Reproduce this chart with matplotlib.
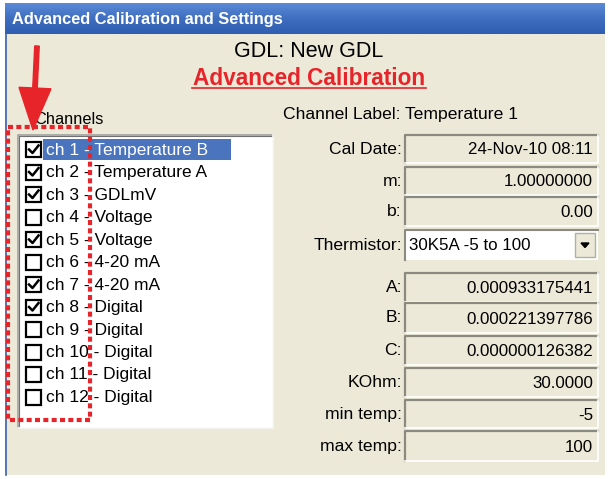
import numpy as np
import matplotlib.pyplot as plt
from matplotlib.colors import LinearSegmentedColormap
from matplotlib.patches import Rectangle, FancyArrow, Polygon

# dialog content
window_title = 'Advanced Calibration and Settings'
device_name = 'GDL: New GDL'
page_title = 'Advanced Calibration'
channel_label = 'Channel Label: Temperature 1'

channels = ['ch 1 - Temperature B', 'ch 2 - Temperature A', 'ch 3 - GDLmV',
            'ch 4 - Voltage', 'ch 5 - Voltage', 'ch 6 - 4-20 mA',
            'ch 7 - 4-20 mA', 'ch 8 - Digital', 'ch 9 - Digital',
            'ch 10 - Digital', 'ch 11 - Digital', 'ch 12 - Digital']
checked = [True, True, True, False, True, False, True, True, False, False, False, False]

field_labels = ['Cal Date:', 'm:', 'b:', 'Thermistor:', 'A:', 'B:', 'C:',
                'KOhm:', 'min temp:', 'max temp:']
field_values = ['24-Nov-10 08:11', '1.00000000', '0.00', '30K5A -5 to 100',
                '0.000933175441', '0.000221397786', '0.000000126382',
                '30.0000', '-5', '100']

BEIGE = '#ECE9D8'
RED = '#E8242B'
FONT = 'Liberation Sans'

fig = plt.figure(figsize=(6.08, 4.79), dpi=100)
ax = fig.add_axes([0, 0, 1, 1])
ax.set_xlim(0, 608)
ax.set_ylim(479, 0)
ax.axis('off')

# window body + title bar
ax.add_patch(Rectangle((5, 33), 600, 442, facecolor=BEIGE, edgecolor='none'))
grad = np.linspace(0, 1, 30).reshape(-1, 1)
ax.imshow(grad, extent=(5, 605, 34, 3),
          cmap=LinearSegmentedColormap.from_list('tb', ['#5A8AD6', '#3F6EC0', '#2F5EB2']),
          aspect='auto', zorder=1)
ax.plot([6, 6], [34, 475], color='#3A62B0', lw=1.2)
ax.text(12, 19, window_title, color='white', fontsize=11.8, fontweight='bold',
        family=FONT, va='center', ha='left', zorder=2)

ax.text(309, 51, device_name, fontsize=15.5, family=FONT, ha='center', va='center')
ax.text(309, 78, page_title, fontsize=16.3, fontweight='bold', color=RED,
        family=FONT, ha='center', va='center')
ax.plot([192, 426], [88, 88], color=RED, lw=1.2)

# channel list
ax.text(34, 119, 'Channels', fontsize=11.8, family=FONT, va='center')
ax.add_patch(Rectangle((18, 135), 255, 293, facecolor='white', edgecolor='none'))
ax.plot([18, 18, 273], [428, 135, 135], color='#A0A0A0', lw=1.2)
ax.plot([19, 19, 272], [427, 136, 136], color='#707070', lw=0.8)
ax.plot([18, 273, 273], [428, 428, 135], color='#F8F8F4', lw=1.2)

row_y0, row_step = 149.5, 22.5
for i, (name, on) in enumerate(zip(channels, checked)):
    y = row_y0 + i * row_step
    if i == 0:
        ax.add_patch(Rectangle((43, y - 11), 188, 21, facecolor='#4A74BE', edgecolor='none'))
    ax.add_patch(Rectangle((26, y - 7.5), 15, 15, facecolor='white', edgecolor='black', lw=1.6))
    if on:
        ax.plot([29, 32.5, 38.5], [y, y + 3.5, y - 4], color='black', lw=1.8)
    ax.text(46, y + 0.5, name, fontsize=12.5, family=FONT, va='center',
            color='white' if i == 0 else 'black')

# red dotted box and arrow
ax.plot([8, 90, 90, 8, 8], [127, 127, 420, 420, 127], color=RED, lw=3,
        linestyle=(0, (1.2, 0.8)), zorder=5)
ax.add_patch(FancyArrow(37, 46, -4, 84, width=4.5, head_width=32, head_length=42,
                        length_includes_head=True, color=RED, zorder=6))

# right side fields
ax.text(283, 114, channel_label, fontsize=12.6, family=FONT, va='center')
box_tops = [135, 167, 197, 230, 273, 303, 336, 368, 400, 431]
box_h = [28, 28, 29, 30, 29, 30, 29, 29, 28, 30]
for lab, val, top, h in zip(field_labels, field_values, box_tops, box_h):
    yc = top + h / 2
    ax.text(402, yc, lab, fontsize=12.6, family=FONT, ha='right', va='center')
    if lab == 'Thermistor:':
        ax.add_patch(Rectangle((405, top), 193, h, facecolor='white', edgecolor='none'))
        ax.plot([405, 405, 598], [top + h, top, top], color='#8A8A80', lw=1.5)
        ax.add_patch(Rectangle((575, top + 3), 20, h - 6, facecolor=BEIGE,
                               edgecolor='#B0B0A8', lw=1))
        ax.add_patch(Polygon([[581, yc - 2], [589, yc - 2], [585, yc + 2.5]],
                             closed=True, color='black'))
        ax.text(409, yc, val, fontsize=12.2, family=FONT, ha='left', va='center')
    else:
        ax.plot([405, 405, 598], [top + h, top, top], color='#8A8A80', lw=1.6)
        ax.plot([405, 598, 598], [top + h, top + h, top], color='#FFFFFF', lw=1.2)
        ax.text(593, yc + 1, val, fontsize=12.2, family=FONT, ha='right', va='center')

fig.savefig('out.png', dpi=100, facecolor='white')
